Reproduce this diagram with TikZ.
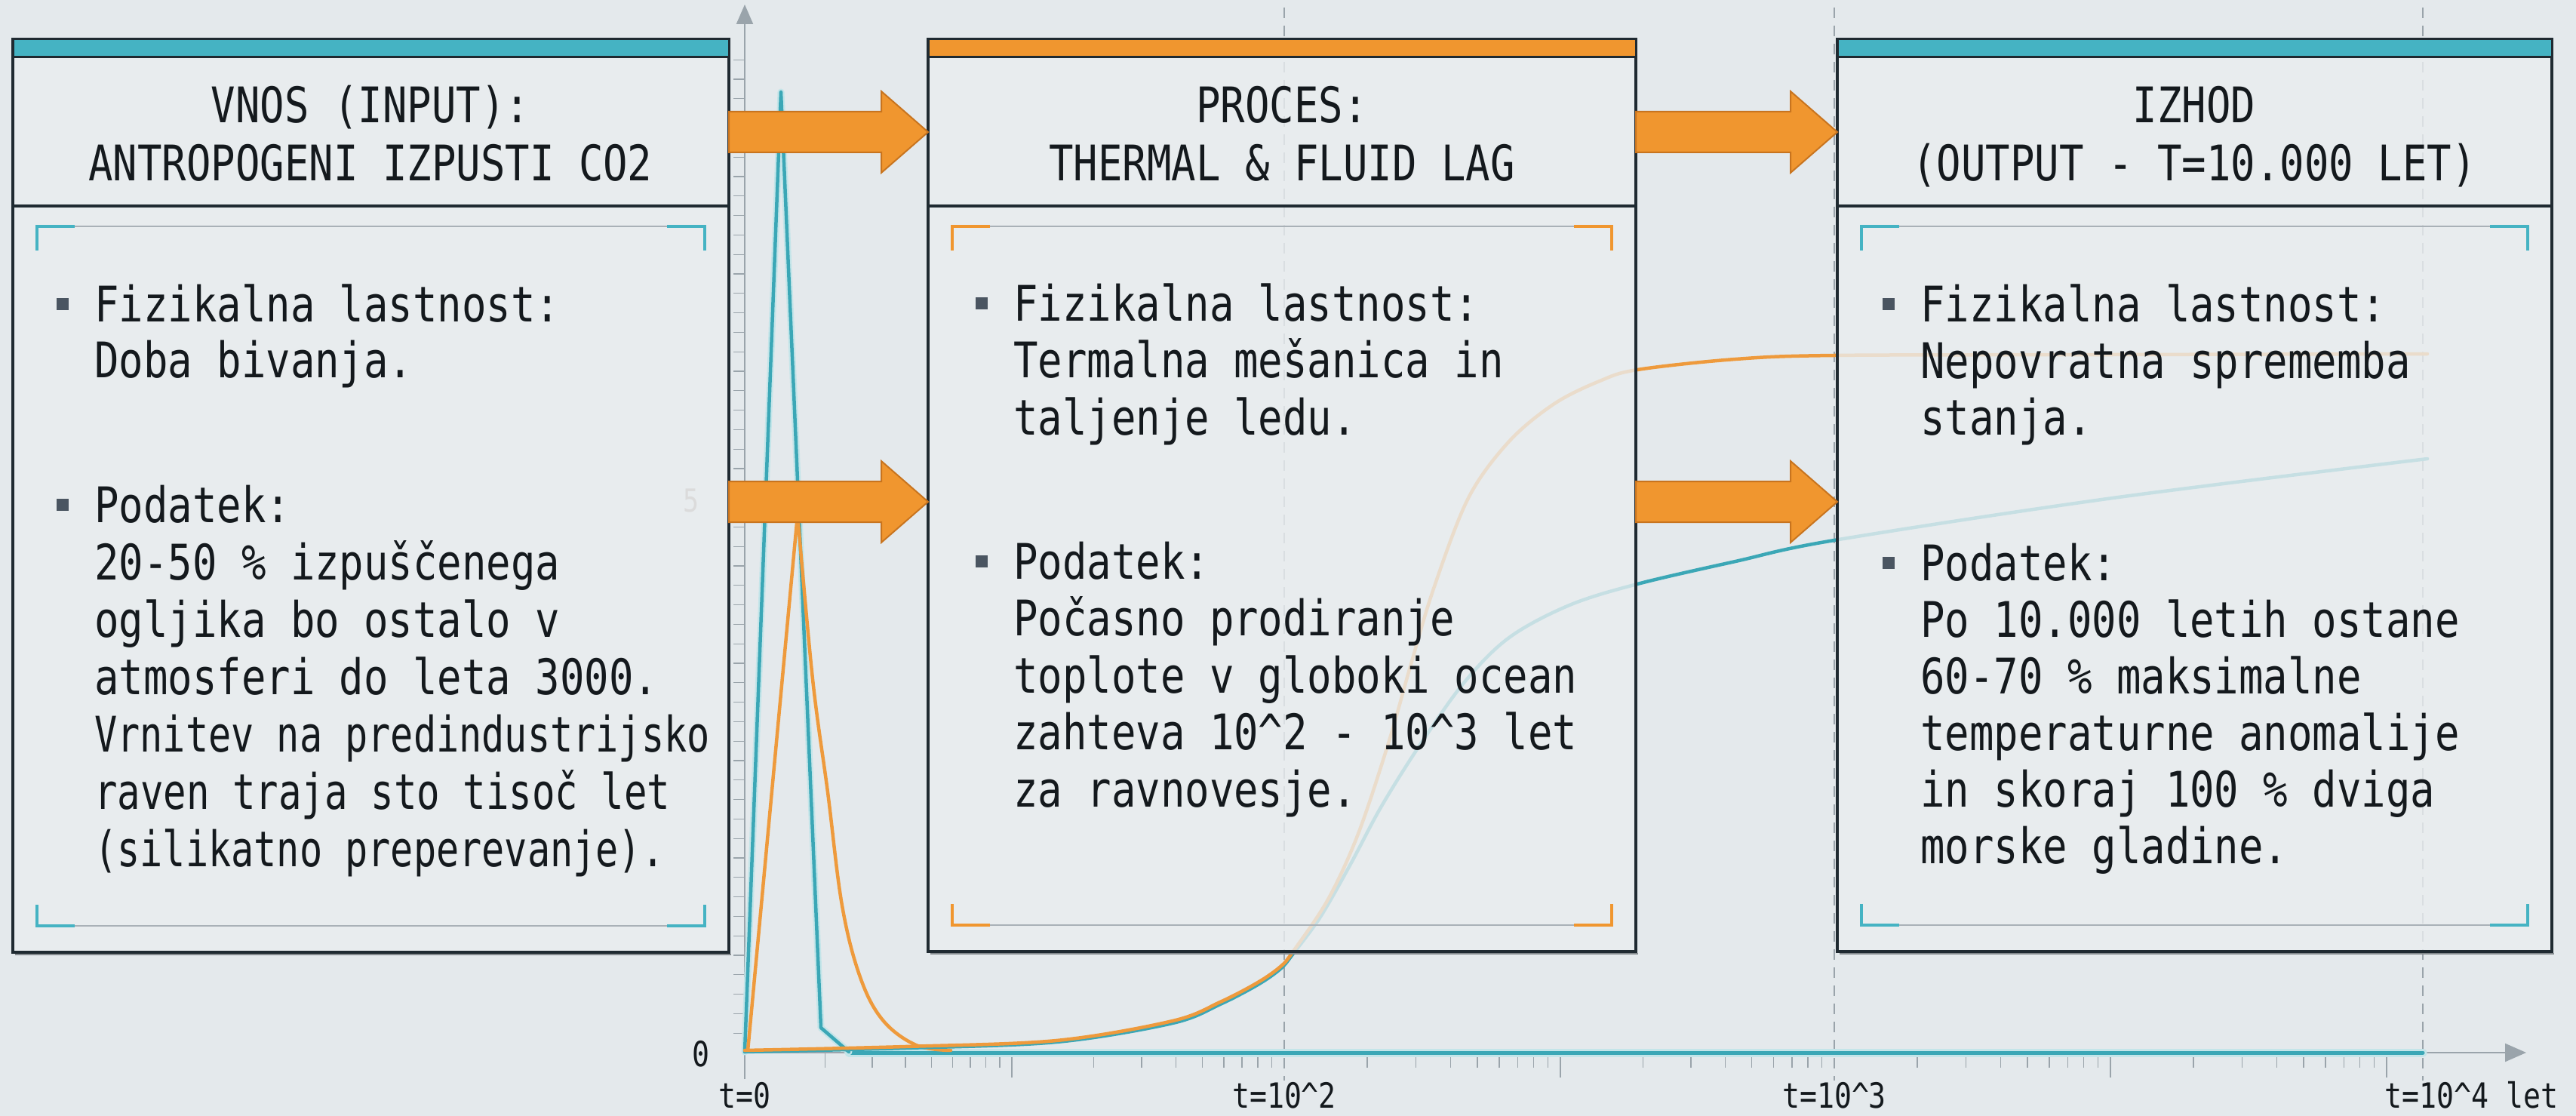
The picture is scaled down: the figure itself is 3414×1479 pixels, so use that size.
\documentclass[tikz,border=0pt]{standalone}
\usepackage{fontspec}
\usepackage{graphicx}
\newfontfamily\dmono[FakeStretch=0.83]{DejaVu Sans Mono}
\usetikzlibrary{calc,arrows.meta}
\definecolor{bgc}{HTML}{E4E9EC}
\definecolor{boxfill}{HTML}{E9EDEF}
\definecolor{edge}{HTML}{1F2A31}
\definecolor{tealc}{HTML}{45B3C3}
\definecolor{tealline}{HTML}{3BA7B6}
\definecolor{orangec}{HTML}{F0962F}
\definecolor{orangeline}{HTML}{EE9A3C}
\definecolor{orangeedge}{HTML}{C8741F}
\definecolor{axisc}{HTML}{9AA4AB}
\definecolor{bulletc}{HTML}{4A5561}
\definecolor{txtc}{HTML}{14191D}
\definecolor{brgray}{HTML}{A9B1B7}

\newcommand\blockarrow[3]{%
  \draw[bigarrow] ($(#1.north east)+(0,#3-27)$) -- ($(#2.north west)+(-62,#3-27)$)
    -- ($(#2.north west)+(-62,#3-54)$) -- ($(#2.north west)+(0,#3)$)
    -- ($(#2.north west)+(-62,#3+54)$) -- ($(#2.north west)+(-62,#3+27)$)
    -- ($(#1.north east)+(0,#3+27)$) -- cycle;}

\newcommand\panelframe[2]{%
  \draw[edge!55, line width=2.5pt] ($(#1.south west)+(3,3)$) -- ($(#1.south east)+(3,3)$);
  \draw[brgray, line width=2.5pt] ($(#1.north west)+(32,248)$) -- ($(#1.north east)+(-32,248)$);
  \draw[brgray, line width=2.5pt] ($(#1.south west)+(32,-35)$) -- ($(#1.south east)+(-32,-35)$);
  \draw[#2, line width=4.5pt] ($(#1.north west)+(82,248)$) -- ($(#1.north west)+(32,248)$) -- ($(#1.north west)+(32,280)$);
  \draw[#2, line width=4.5pt] ($(#1.north east)+(-82,248)$) -- ($(#1.north east)+(-32,248)$) -- ($(#1.north east)+(-32,280)$);
  \draw[#2, line width=4.5pt] ($(#1.south west)+(82,-35)$) -- ($(#1.south west)+(32,-35)$) -- ($(#1.south west)+(32,-63)$);
  \draw[#2, line width=4.5pt] ($(#1.south east)+(-82,-35)$) -- ($(#1.south east)+(-32,-35)$) -- ($(#1.south east)+(-32,-63)$);
  \draw[edge, line width=4.5pt] ($(#1.north west)+(0,221)$) -- ($(#1.north east)+(0,221)$);
  \draw[fill=#2, draw=edge, line width=3pt] (#1.north west) rectangle ($(#1.north east)+(0,24)$);
}

\newcommand\bodypara[5]{%
  \foreach \ln [count=\i from 0] in {#5} {
    \node[bodytxt] (#1\i) at (#2,{#3+#4*\i}) {\ln};
  }
  \fill[bulletc] (#2-50,#3-31) rectangle ++(16,16);
}

\begin{document}
\begin{tikzpicture}[x=1pt,y=-1pt,
  panel/.style={draw=edge, line width=3.5pt, fill=boxfill, fill opacity=0.8, inner sep=0pt, outer sep=0pt, anchor=north west, minimum height=1210},
  hdrtxt/.style={font=\dmono\fontsize{65}{76}\selectfont, text=txtc, anchor=base, inner sep=0pt},
  bodytxt/.style={font=\dmono\fontsize{65}{76}\selectfont, text=txtc, anchor=base west, inner sep=0pt},
  axlabel/.style={font=\dmono\fontsize{46}{50}\selectfont, text=txtc, inner sep=0pt, anchor=base},
  bigarrow/.style={fill=orangec, draw=orangeedge, line width=2pt, line join=miter},
  tickline/.style={draw=axisc, line width=1.5pt},
  vdash/.style={draw=axisc, line width=1.8pt, dash pattern=on 14pt off 10pt},
  tealcurve/.style={draw=tealline, line width=4.5pt, line join=round, line cap=round},
  tealglow/.style={draw=tealline!30, line width=11pt, line join=round, line cap=round},
  orangecurve/.style={draw=orangeline, line width=4.5pt, line join=round, line cap=round},
]
\useasboundingbox (0,0) rectangle (3414,1479);
\fill[bgc] (0,0) rectangle (3414,1479);

% dashed decade lines
\foreach \x in {1702,2431,3211} \draw[vdash] (\x,10) -- (\x,1432);

% y-axis ticks
\foreach \k in {1,...,51} \draw[tickline, line width=1.2pt] (972,{1395-25.8*\k}) -- (987,{1395-25.8*\k});
% x-axis ticks
\foreach \a/\b in {987/1341,1341/1702,1702/2068,2068/2431,2431/2797,2797/3163} {
  \foreach \m in {2,...,9} \draw[tickline] ({\a+log10(\m)*(\b-\a)},1395) -- ++(0,20);
}
\foreach \x in {987,1341,2068,2797,3163} \draw[tickline] (\x,1395) -- ++(0,33);

% axes
\draw[axisc, line width=2.2pt, -{Triangle[width=22pt,length=26pt]}] (987,1430) -- (987,6);
\draw[axisc, line width=2.2pt, -{Triangle[width=24pt,length=28pt]}] (987,1395) -- (3348,1395);

% curves
\draw[tealglow] (1125,1395) -- (3211,1395);
\draw[tealcurve, line width=5pt] (1125,1395) -- (3211,1395);
\draw[tealglow, line width=9pt] (987,1394) -- (1035,122) -- (1088,1362) -- (1125,1394);
\draw[tealcurve] (987,1394) -- (1035,122) -- (1088,1362) -- (1125,1394);
\draw[orangecurve] (991,1393) -- (1057,682) -- plot[smooth, tension=0.6] coordinates {(1057,682) (1077,900) (1097,1050) (1116,1200) (1140,1295) (1170,1352) (1214,1385) (1260,1392)};
\draw[tealcurve] plot[smooth, tension=0.55] coordinates {(987,1394) (1200,1389) (1400,1381) (1554,1356) (1617,1331) (1667,1305) (1697,1284) (1713,1265) (1750,1215) (1790,1145) (1830,1070) (1880,990) (1940,905) (2000,845) (2080,802) (2170,774) (2300,744) (2431,716) (2800,660) (3217,608)};
\draw[orangecurve] plot[smooth, tension=0.55] coordinates {(987,1392) (1200,1387) (1400,1379) (1554,1353) (1617,1328) (1667,1302) (1697,1281) (1713,1262) (1760,1192) (1800,1105) (1840,985) (1870,880) (1900,780) (1946,660) (2000,585) (2060,535) (2120,505) (2170,490) (2300,476) (2431,471) (2800,470) (3217,469)};

% panels
\node[panel, minimum width=949] (box1) at (17,52) {};
\node[panel, minimum width=938, minimum height=1209] (box2) at (1230,52) {};
\node[panel, minimum width=947, minimum height=1209] (box3) at (2435,52) {};
\panelframe{box1}{tealc}
\panelframe{box2}{orangec}
\panelframe{box3}{tealc}

% faint label
\node[axlabel, text=black!14, font=\dmono\fontsize{42}{46}\selectfont] (lfive) at (916,678) {5};

% headers
\node[hdrtxt] (h1a) at (491,163) {VNOS (INPUT):};
\node[hdrtxt] (h1b) at (491,240) {ANTROPOGENI IZPUSTI CO2};
\node[hdrtxt] (h2a) at (1699,163) {PROCES:};
\node[hdrtxt] (h2b) at (1699,240) {THERMAL \& FLUID LAG};
\node[hdrtxt] (h3a) at (2908,163) {IZHOD};
\node[hdrtxt] (h3b) at (2908,240) {(OUTPUT - T=10.000 LET)};

% body texts
\bodypara{ba}{125}{426}{74}{{Fizikalna lastnost:},{Doba bivanja.}}
\bodypara{bb}{125}{692}{76}{{Podatek:},{20-50 \% izpuščenega},{ogljika bo ostalo v},{atmosferi do leta 3000.},{\scalebox{0.93}[1]{Vrnitev na predindustrijsko}},{\scalebox{0.94}[1]{raven traja sto tisoč let}},{\scalebox{0.93}[1]{(silikatno preperevanje).}}}
\bodypara{ca}{1343}{425}{75.5}{{Fizikalna lastnost:},{Termalna mešanica in},{taljenje ledu.}}
\bodypara{cb}{1343}{767}{75.5}{{Podatek:},{Počasno prodiranje},{toplote v globoki ocean},{zahteva 10\textasciicircum 2 - 10\textasciicircum 3 let},{za ravnovesje.}}
\bodypara{da}{2545}{426}{75}{{Fizikalna lastnost:},{Nepovratna sprememba},{stanja.}}
\bodypara{db}{2545}{769}{75}{{Podatek:},{Po 10.000 letih ostane},{60-70 \% maksimalne},{temperaturne anomalije},{in skoraj 100 \% dviga},{morske gladine.}}

% arrows
\blockarrow{box1}{box2}{123}
\blockarrow{box1}{box2}{613}
\blockarrow{box2}{box3}{123}
\blockarrow{box2}{box3}{613}

% axis labels
\node[axlabel] (lab0) at (929,1413) {0};
\node[axlabel] (lt0) at (987,1468) {t=0};
\node[axlabel] (lt2) at (1702,1468) {t=10\textasciicircum 2};
\node[axlabel] (lt3) at (2431,1468) {t=10\textasciicircum 3};
\node[axlabel, anchor=base west] (lt4) at (3160,1468) {t=10\textasciicircum 4 let};
\end{tikzpicture}
\end{document}
